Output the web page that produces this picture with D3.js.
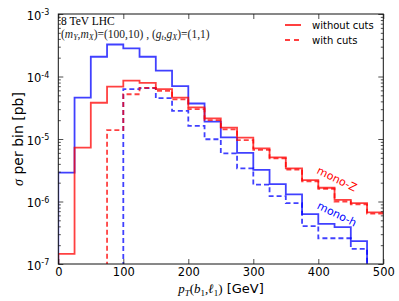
<!DOCTYPE html>
<html>
<head>
<meta charset="utf-8">
<script src="https://cdn.jsdelivr.net/npm/d3@7"></script>
<style>
  body { margin: 0; background: #fff; }
  text { font-family: "DejaVu Sans", sans-serif; }
  .serif { font-family: "Liberation Serif", "DejaVu Serif", serif; }
</style>
</head>
<body>
<script>
// bin edges 0..500 GeV, 25 GeV wide
var binEdges = [0, 25, 50, 75, 100, 125, 150, 175, 200, 225, 250, 275, 300, 325, 350, 375, 400, 425, 450, 475, 500];

// mono-h (blue)
var monoH_noCuts = [2.9e-6, 4.6e-5, 2.07e-4, 3.25e-4, 2.82e-4, 2.07e-4, 1.24e-4, 7.0e-5, 3.7e-5, 1.89e-5, 1.06e-5, 6.0e-6, 3.2e-6, 1.9e-6, 1.3e-6, 6.3e-7, 4.4e-7, 3.9e-7, 2.33e-7, 0];
var monoH_cuts   = [0, 0, 0, 0, 6.3e-5, 6.5e-5, 4.5e-5, 2.82e-5, 1.62e-5, 9.9e-6, 5.9e-6, 3.4e-6, 1.86e-6, 1.22e-6, 9.4e-7, 4.05e-7, 2.58e-7, 2.58e-7, 1.74e-7, 0];

// mono-Z (red)
var monoZ_noCuts = [1.45e-7, 7.3e-6, 3.8e-5, 6.9e-5, 8.6e-5, 7.9e-5, 6.3e-5, 4.6e-5, 3.2e-5, 2.14e-5, 1.52e-5, 1.05e-5, 7.1e-6, 5.1e-6, 3.4e-6, 2.2e-6, 1.66e-6, 1.06e-6, 9.4e-7, 6.7e-7];
var monoZ_cuts   = [0, 0, 0, 1.39e-5, 5.2e-5, 6.6e-5, 5.9e-5, 4.3e-5, 3.0e-5, 2.0e-5, 1.43e-5, 9.6e-6, 6.7e-6, 4.9e-6, 3.25e-6, 2.1e-6, 1.6e-6, 1.0e-6, 9.0e-7, 6.4e-7];

var yMajor = [1e-7, 1e-6, 1e-5, 1e-4, 1e-3];
var yExp = ["-7", "-6", "-5", "-4", "-3"];
var xTicks = [0, 100, 200, 300, 400, 500];

var width = 399, height = 301;
var margin = { top: 14, right: 15.7, bottom: 37, left: 58.3 };

var svg = d3.select("body").append("svg")
    .attr("width", width)
    .attr("height", height);

var x = d3.scaleLinear().domain([0, 500]).range([margin.left, width - margin.right]);
var y = d3.scaleLog().domain([1e-7, 1e-3]).range([height - margin.bottom, margin.top]);

svg.append("clipPath").attr("id", "plot")
  .append("rect")
    .attr("x", x(0)).attr("y", y(1e-3))
    .attr("width", x(500) - x(0)).attr("height", y(1e-7) - y(1e-3));

// step histogram as a path
var step = d3.line()
    .x(function(d) { return x(d[0]); })
    .y(function(d) { return d[1] > 0 ? y(d[1]) : y(1e-7) + 2; })
    .curve(d3.curveStepAfter);

function histPoints(vals) {
  var pts = [[binEdges[0], 0]];
  vals.forEach(function(v, i) { pts.push([binEdges[i], v]); });
  pts.push([binEdges[binEdges.length - 1], vals[vals.length - 1]]);
  return pts;
}

var series = [
  { vals: monoH_noCuts, color: "#0000ff", dash: null },
  { vals: monoH_cuts,   color: "#0000ff", dash: "5,3" },
  { vals: monoZ_noCuts, color: "#ff0000", dash: null },
  { vals: monoZ_cuts,   color: "#ff0000", dash: "5,3" }
];

var g = svg.append("g").attr("clip-path", "url(#plot)");
g.selectAll("path")
  .data(series)
  .enter()
  .append("path")
    .attr("d", function(d) { return step(histPoints(d.vals)); })
    .attr("fill", "none")
    .attr("stroke", function(d) { return d.color; })
    .attr("stroke-opacity", 0.75)
    .attr("stroke-width", 1.8)
    .attr("stroke-dasharray", function(d) { return d.dash; });

// minor log ticks
var yMinor = [];
for (var e = -7; e < -3; e++) {
  for (var m = 2; m < 10; m++) yMinor.push(m * Math.pow(10, e));
}

function styleAxis(sel) {
  sel.select(".domain").remove();
  sel.selectAll("line").attr("stroke", "#222").attr("stroke-width", 0.8);
}

svg.append("g")
    .attr("transform", "translate(" + x(0) + ",0)")
    .call(d3.axisLeft(y).tickValues(yMinor).tickSize(-2.5).tickFormat(""))
    .call(styleAxis);
svg.append("g")
    .attr("transform", "translate(" + x(500) + ",0)")
    .call(d3.axisRight(y).tickValues(yMinor).tickSize(-2.5).tickFormat(""))
    .call(styleAxis);
svg.append("g")
    .attr("transform", "translate(" + x(500) + ",0)")
    .call(d3.axisRight(y).tickValues(yMajor).tickSize(-5).tickFormat(""))
    .call(styleAxis);

var yAxis = svg.append("g")
    .attr("transform", "translate(" + x(0) + ",0)")
    .call(d3.axisLeft(y).tickValues(yMajor).tickSize(-5).tickPadding(8).tickFormat(""))
    .call(styleAxis);

yAxis.selectAll(".tick text")
    .attr("font-size", 11.5)
    .attr("fill", "#000")
    .attr("dy", "0.45em")
    .attr("x", -9)
    .text("10")
    .append("tspan")
      .attr("dy", "-0.55em")
      .attr("font-size", 8)
      .text(function(d, i) { return yExp[i]; });

var xAxis = svg.append("g")
    .attr("transform", "translate(0," + y(1e-7) + ")")
    .call(d3.axisBottom(x).tickValues(xTicks).tickSize(-5).tickPadding(4))
    .call(styleAxis);
xAxis.selectAll("text").attr("font-size", 11.5).attr("fill", "#000");

svg.append("g")
    .attr("transform", "translate(0," + y(1e-3) + ")")
    .call(d3.axisTop(x).tickValues(xTicks).tickSize(-5).tickFormat(""))
    .call(styleAxis);

// frame
svg.append("rect")
    .attr("x", x(0)).attr("y", y(1e-3))
    .attr("width", x(500) - x(0)).attr("height", y(1e-7) - y(1e-3))
    .attr("fill", "none")
    .attr("stroke", "#111")
    .attr("stroke-width", 1);

// axis labels
var xl = svg.append("text")
    .attr("x", 221).attr("y", 293)
    .attr("text-anchor", "middle")
    .attr("font-size", 13);
xl.append("tspan").attr("class", "serif").attr("font-style", "italic").text("p");
xl.append("tspan").attr("class", "serif").attr("font-style", "italic").attr("font-size", 9).attr("dy", 3).text("T");
xl.append("tspan").attr("class", "serif").attr("dy", -3).text("(");
xl.append("tspan").attr("class", "serif").attr("font-style", "italic").text("b");
xl.append("tspan").attr("class", "serif").attr("font-size", 9).attr("dy", 3).text("1");
xl.append("tspan").attr("class", "serif").attr("dy", -3).text(",");
xl.append("tspan").attr("class", "serif").attr("font-style", "italic").text("ℓ");
xl.append("tspan").attr("class", "serif").attr("font-size", 9).attr("dy", 3).text("1");
xl.append("tspan").attr("class", "serif").attr("dy", -3).text(")");
xl.append("tspan").text(" [GeV]");

var yl = svg.append("text")
    .attr("transform", "translate(23,139) rotate(-90)")
    .attr("text-anchor", "middle")
    .attr("font-size", 14);
yl.append("tspan").attr("class", "serif").attr("font-style", "italic").text("σ");
yl.append("tspan").text(" per bin [pb]");

// annotation
svg.append("text")
    .attr("class", "serif")
    .attr("x", 61).attr("y", 25)
    .attr("font-size", 11.5)
    .text("8 TeV LHC");

var ann = svg.append("text")
    .attr("class", "serif")
    .attr("x", 61).attr("y", 37.5)
    .attr("font-size", 11.5)
    .attr("fill", "#222");
ann.append("tspan").text("(");
ann.append("tspan").attr("font-style", "italic").text("m");
ann.append("tspan").attr("font-style", "italic").attr("font-size", 8).attr("dy", 2).text("Y");
ann.append("tspan").attr("dy", -2).text(",");
ann.append("tspan").attr("font-style", "italic").text("m");
ann.append("tspan").attr("font-style", "italic").attr("font-size", 8).attr("dy", 2).text("X");
ann.append("tspan").attr("dy", -2).text(")=(100,10) , (");
ann.append("tspan").attr("font-style", "italic").text("g");
ann.append("tspan").attr("font-style", "italic").attr("font-size", 8).attr("dy", 2).text("t");
ann.append("tspan").attr("dy", -2).text(",");
ann.append("tspan").attr("font-style", "italic").text("g");
ann.append("tspan").attr("font-style", "italic").attr("font-size", 8).attr("dy", 2).text("X");
ann.append("tspan").attr("dy", -2).text(")=(1,1)");

// legend
var legendItems = [
  { label: "without cuts", dash: null },
  { label: "with cuts", dash: "5,4" }
];
var legend = svg.append("g").attr("transform", "translate(285,25)");
legend.selectAll("line")
  .data(legendItems)
  .enter()
  .append("line")
    .attr("x1", 0).attr("x2", 16)
    .attr("y1", function(d, i) { return i * 15; })
    .attr("y2", function(d, i) { return i * 15; })
    .attr("stroke", "#ff0000")
    .attr("stroke-width", 1.5)
    .attr("stroke-dasharray", function(d) { return d.dash; });
legend.selectAll("text")
  .data(legendItems)
  .enter()
  .append("text")
    .attr("x", 27)
    .attr("y", function(d, i) { return i * 15; })
    .attr("dy", "0.35em")
    .attr("font-size", 10)
    .text(function(d) { return d.label; });

// curve labels
svg.append("text")
    .attr("transform", "translate(337,179) rotate(26)")
    .attr("text-anchor", "middle")
    .attr("dy", "0.35em")
    .attr("font-size", 11)
    .attr("fill", "#ff0000")
    .text("mono-Z");
svg.append("text")
    .attr("transform", "translate(337,214) rotate(26)")
    .attr("text-anchor", "middle")
    .attr("dy", "0.35em")
    .attr("font-size", 11)
    .attr("fill", "#0000ff")
    .text("mono-h");
</script>
</body>
</html>
